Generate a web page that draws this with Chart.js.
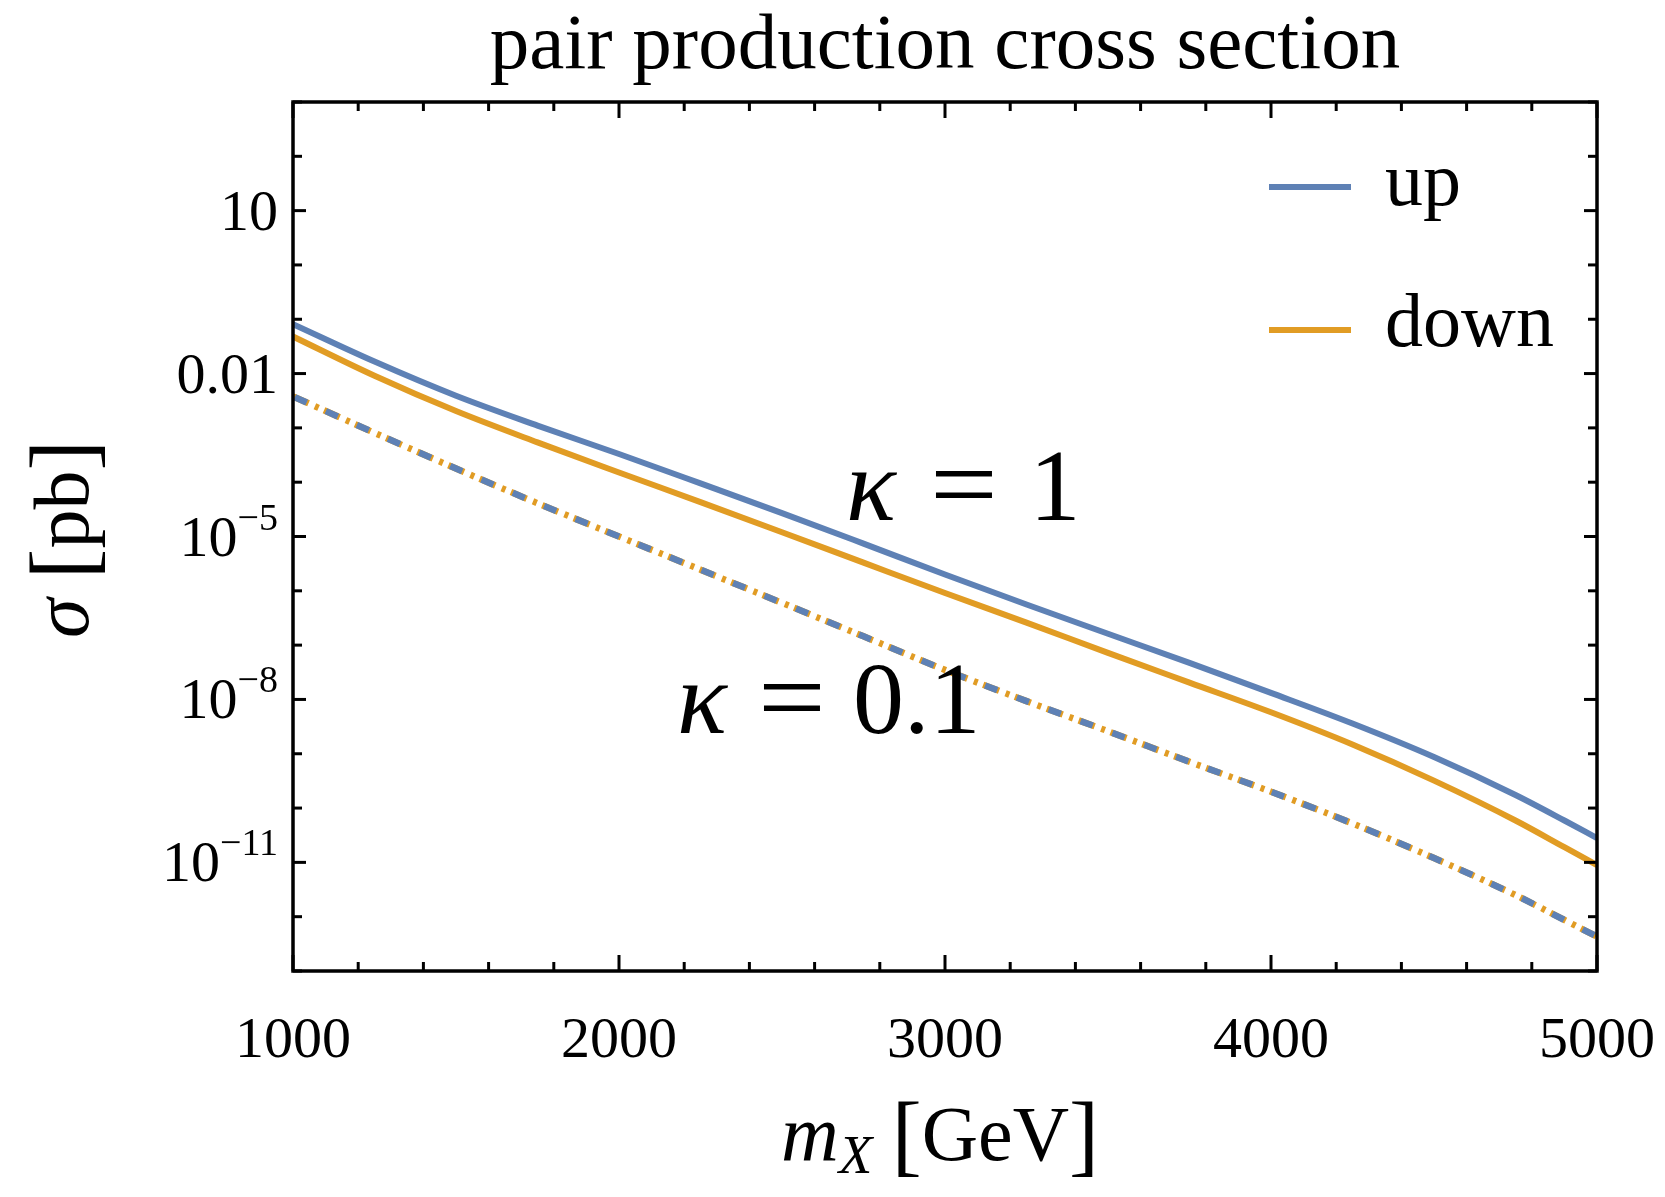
<!DOCTYPE html>
<html>
<head>
<meta charset="utf-8">
<script src="https://cdn.jsdelivr.net/npm/chart.js@4.4.1/dist/chart.umd.min.js"></script>
<style>
  html, body { margin: 0; padding: 0; background: #fff; }
  #wrap { width: 1665px; height: 1197px; }
</style>
</head>
<body>
<div id="wrap"><canvas id="xsecChart"></canvas></div>
<script>
/* global Chart */
// mass in GeV, cross sections in pb
const massGeV = [1000, 1250, 1500, 1750, 2000, 2250, 2500, 2750, 3000, 3250, 3500, 3750, 4000, 4250, 4500, 4750, 4900, 5000];
const sigmaUpK1 = [8.1e-2, 1.66e-2, 3.9e-3, 1.1e-3, 3.3e-4, 9.5e-5, 2.7e-5, 7.4e-6, 2.0e-6, 5.6e-7, 1.62e-7, 4.7e-8, 1.32e-8, 3.6e-9, 8.7e-10, 1.74e-10, 5.9e-11, 2.8e-11];
const sigmaDownK1 = [4.8e-2, 9.1e-3, 2.04e-3, 5.4e-4, 1.51e-4, 4.3e-5, 1.2e-5, 3.3e-6, 9.1e-7, 2.6e-7, 7.2e-8, 2.04e-8, 5.8e-9, 1.48e-9, 3.2e-10, 5.9e-11, 1.9e-11, 8.9e-12];
const sigmaUpK01 = [3.8e-3, 8.1e-4, 1.78e-4, 4.1e-5, 1.0e-5, 2.45e-6, 6.0e-7, 1.45e-7, 3.5e-8, 9.3e-9, 2.6e-9, 7.1e-10, 2.0e-10, 5.2e-11, 1.2e-11, 2.5e-12, 8.7e-13, 4.3e-13];
const sigmaDownK01 = [3.8e-3, 8.1e-4, 1.78e-4, 4.1e-5, 1.0e-5, 2.45e-6, 6.0e-7, 1.45e-7, 3.5e-8, 9.3e-9, 2.6e-9, 7.1e-10, 2.0e-10, 5.2e-11, 1.2e-11, 2.5e-12, 8.7e-13, 4.3e-13];

const xTickLabels = [1000, 2000, 3000, 4000, 5000];
const yTickValues = [10, 0.01, 1e-5, 1e-8, 1e-11];
const yTickBase = ['10', '0.01', '10', '10', '10'];
const yTickExp = ['', '', '\u22125', '\u22128', '\u221211'];
const seriesNames = ['up', 'down'];

const BLUE = '#5E81B5';
const ORANGE = '#E19C24';
const SERIF = '"Liberation Serif", "Times New Roman", serif';

function pts(ys) {
    return massGeV.map((m, i) => ({ x: m, y: ys[i] }));
}

function line(ctx, x1, y1, x2, y2) {
    ctx.beginPath();
    ctx.moveTo(x1, y1);
    ctx.lineTo(x2, y2);
    ctx.stroke();
}

// a run is a list of [text, font, dy] pieces
function runWidth(ctx, parts) {
    let w = 0;
    parts.forEach(p => { ctx.font = p[1]; w += ctx.measureText(p[0]).width; });
    return w;
}
function drawRun(ctx, parts, x, y) {
    parts.forEach(p => {
        ctx.font = p[1];
        ctx.fillText(p[0], x, y + (p[2] || 0));
        x += ctx.measureText(p[0]).width;
    });
}

// wide "=" like the TeX one
function wideEquals(ctx, cx, baseline) {
    ctx.save();
    ctx.translate(cx, baseline);
    ctx.scale(1.18, 1.05);
    ctx.textAlign = 'center';
    ctx.font = '102px ' + SERIF;
    ctx.fillText('=', 0, 0);
    ctx.restore();
}

const framePlugin = {
    id: 'mmaFrame',
    afterDatasetsDraw(chart) {
        const { ctx, chartArea: a, scales: { x, y } } = chart;
        ctx.save();
        ctx.fillStyle = '#000';
        ctx.strokeStyle = '#000';

        // ticks, pointing inwards on all four sides
        ctx.lineWidth = 3;
        for (let m = x.min; m <= x.max; m += 200) {
            const px = x.getPixelForValue(m);
            const len = xTickLabels.includes(m) ? 16 : 9;
            line(ctx, px, a.bottom, px, a.bottom - len);
            line(ctx, px, a.top, px, a.top + len);
        }
        for (let e = -13; e <= 3; e++) {
            const py = y.getPixelForValue(Math.pow(10, e));
            const major = yTickValues.some(t => Math.abs(Math.log10(t) - e) < 1e-6);
            const len = major ? 13 : 9;
            line(ctx, a.left, py, a.left + len, py);
            line(ctx, a.right, py, a.right - len, py);
        }

        ctx.lineWidth = 3.5;
        ctx.strokeRect(a.left, a.top, a.right - a.left, a.bottom - a.top);

        // x tick labels
        ctx.font = '58px ' + SERIF;
        ctx.textAlign = 'center';
        ctx.textBaseline = 'alphabetic';
        xTickLabels.forEach(m => {
            ctx.fillText(String(m), x.getPixelForValue(m), a.bottom + 86);
        });

        // y tick labels with superscripts
        ctx.textAlign = 'left';
        yTickValues.forEach((v, i) => {
            const py = y.getPixelForValue(v);
            const parts = [[yTickBase[i], '58px ' + SERIF, 0]];
            if (yTickExp[i]) parts.push([yTickExp[i], '38px ' + SERIF, -26]);
            const w = runWidth(ctx, parts);
            drawRun(ctx, parts, a.left - 15 - w, py + 19);
        });

        // title
        ctx.textAlign = 'center';
        ctx.font = '79px ' + SERIF;
        ctx.fillText('pair production cross section', (a.left + a.right) / 2, 68);

        // x axis title
        ctx.textAlign = 'left';
        const xt = [
            ['m', 'italic 80px ' + SERIF, 0],
            ['X', 'italic 55px ' + SERIF, 13],
            [' ', '78px ' + SERIF, 0],
            ['[', '90px ' + SERIF, 5],
            ['GeV', '78px ' + SERIF, 0],
            [']', '90px ' + SERIF, 5]
        ];
        const xw = runWidth(ctx, xt);
        drawRun(ctx, xt, 940 - xw / 2, 1160);

        // y axis title, rotated
        ctx.save();
        ctx.translate(88, 539);
        ctx.rotate(-Math.PI / 2);
        const yt = [
            ['\u03C3', 'italic 80px ' + SERIF, 0],
            [' ', '78px ' + SERIF, 0],
            ['[', '92px ' + SERIF, 5],
            ['pb', '78px ' + SERIF, 0],
            [']', '92px ' + SERIF, 5]
        ];
        const yw = runWidth(ctx, yt);
        drawRun(ctx, yt, -yw / 2, 0);
        ctx.restore();

        // curve annotations
        ctx.font = 'italic 104px ' + SERIF;
        ctx.fillText('\u03BA', 846, 520);
        ctx.fillText('\u03BA', 677, 733);
        wideEquals(ctx, 964, 520);
        wideEquals(ctx, 792, 733);
        ctx.font = '102px ' + SERIF;
        ctx.textAlign = 'center';
        ctx.fillText('1', 1055, 520);
        ctx.textAlign = 'left';
        ctx.fillText('0.1', 853, 733);

        // legend
        const legendY = [187, 330];
        const textY = [205, 346];
        ctx.lineWidth = 6;
        chart.data.datasets.slice(0, 2).forEach((ds, i) => {
            ctx.strokeStyle = ds.borderColor;
            line(ctx, 1269, legendY[i], 1351, legendY[i]);
            ctx.font = '76px ' + SERIF;
            ctx.fillText(seriesNames[i], 1385, textY[i]);
        });

        ctx.restore();
    }
};

const ctx = document.getElementById('xsecChart').getContext('2d');
new Chart(ctx, {
    type: 'line',
    data: {
        datasets: [
            { label: 'up', data: pts(sigmaUpK1), borderColor: BLUE, borderWidth: 6 },
            { label: 'down', data: pts(sigmaDownK1), borderColor: ORANGE, borderWidth: 6 },
            { label: 'up 0.1', data: pts(sigmaUpK01), borderColor: BLUE, borderWidth: 6.5,
              borderDash: [13, 21], borderDashOffset: -2 },
            { label: 'down 0.1', data: pts(sigmaDownK01), borderColor: ORANGE, borderWidth: 6.5,
              borderDash: [17, 7, 4, 6] }
        ]
    },
    options: {
        responsive: true,
        maintainAspectRatio: false,
        animation: false,
        devicePixelRatio: 1,
        layout: { padding: { left: 293, top: 102, right: 68, bottom: 226 } },
        elements: {
            point: { radius: 0 },
            line: { cubicInterpolationMode: 'monotone', borderCapStyle: 'butt' }
        },
        plugins: { legend: { display: false }, tooltip: { enabled: false } },
        scales: {
            x: { type: 'linear', min: 1000, max: 5000, display: false },
            y: { type: 'logarithmic', min: 1e-13, max: 1e3, display: false }
        }
    },
    plugins: [framePlugin]
});
</script>
</body>
</html>
